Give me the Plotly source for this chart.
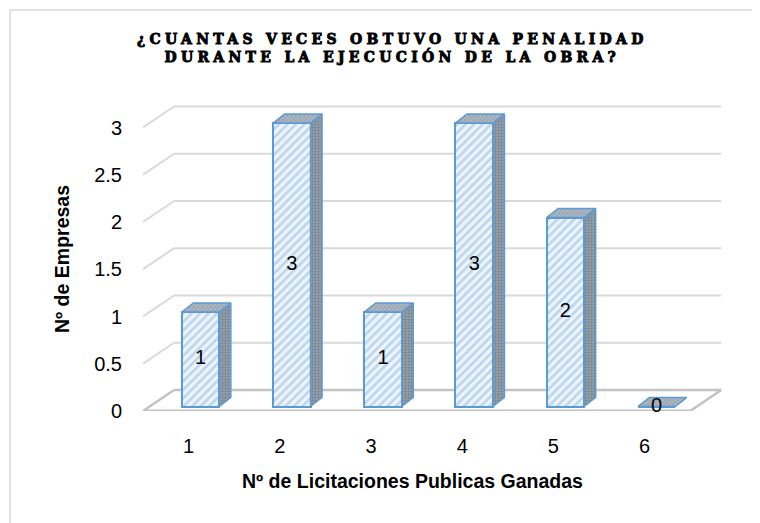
import plotly.graph_objects as go

# ---------------- data ----------------
categories = [1, 2, 3, 4, 5, 6]
values = [1, 3, 1, 3, 2, 0]
x_tick_labels = ["1", "2", "3", "4", "5", "6"]
y_ticks = [0, 0.5, 1, 1.5, 2, 2.5, 3]
y_tick_labels = ["0", "0.5", "1", "1.5", "2", "2.5", "3"]
title_lines = ["¿CUANTAS VECES OBTUVO UNA PENALIDAD", "DURANTE LA EJECUCIÓN DE LA OBRA?"]
x_title = "Nº de Licitaciones Publicas Ganadas"
y_title = "Nº de Empresas"

# ---------------- geometry ----------------
PAGE_PAD = 8                      # default body margin of the html page
W, H = 760 - PAGE_PAD, 523 - PAGE_PAD
LEFT_PX, FLOOR_PX = 143 - PAGE_PAD, 411 - PAGE_PAD
PX_X, PX_Y = 91.2, 94.5
PLOT_W, PLOT_H = 584, 312
x_range = [0.5, 0.5 + PLOT_W / PX_X]
y_range = [0, PLOT_H / PX_Y]

WALL_DX, WALL_DY = 31 / PX_X, 21 / PX_Y      # back wall depth offset
BAR_OFF, BAR_BASE = 12 / PX_X, 4.5 / PX_Y     # bar front face offset
BAR_W = 37.5 / PX_X
DEPTH_DX, DEPTH_DY = 11.5 / PX_X, 9 / PX_Y    # bar depth

first_cat = categories[0] - 0.5
last_cat = categories[-1] + 0.5

FONT = "Liberation Sans, Arial, sans-serif"


def px_x(p):  # reference pixel -> paper x
    return (p - PAGE_PAD - LEFT_PX) / PLOT_W


def px_y(p):  # reference pixel -> paper y
    return (FLOOR_PX - (p - PAGE_PAD)) / PLOT_H


fig = go.Figure()

# ---------------- wall / floor ----------------
shapes = []
for v in y_ticks:
    col = "#c3c3c3" if v == 0 else "#d9d9d9"
    lw = 2.5 if v == 0 else 2
    shapes.append(dict(type="line", xref="x", yref="y", layer="below",
                       x0=first_cat + WALL_DX, y0=v + WALL_DY,
                       x1=last_cat + WALL_DX, y1=v + WALL_DY,
                       line=dict(color=col, width=lw)))
    shapes.append(dict(type="line", xref="x", yref="y", layer="below",
                       x0=first_cat, y0=v, x1=first_cat + WALL_DX, y1=v + WALL_DY,
                       line=dict(color=col, width=lw)))
shapes.append(dict(type="line", xref="x", yref="y", layer="below",
                   x0=first_cat, y0=0, x1=last_cat, y1=0,
                   line=dict(color="#c3c3c3", width=3)))
shapes.append(dict(type="line", xref="x", yref="y", layer="below",
                   x0=last_cat, y0=0, x1=last_cat + WALL_DX, y1=WALL_DY,
                   line=dict(color="#c3c3c3", width=2.5)))

# chart border (top and left visible)
shapes.append(dict(type="rect", xref="paper", yref="paper",
                   x0=px_x(10), x1=px_x(820),
                   y0=px_y(600), y1=px_y(10),
                   line=dict(color="#d9d9d9", width=1.5)))

# ---------------- bars (front faces) ----------------
bar_x = [c + BAR_OFF for c in categories]
fig.add_trace(go.Bar(
    x=bar_x, y=values, base=BAR_BASE, width=BAR_W,
    marker=dict(color="#eaf3fc",
                line=dict(color="#5b9bd5", width=2),
                pattern=dict(shape="/", fgcolor="#8ab5e4", bgcolor="#eef5fc",
                             size=6, solidity=0.45)),
    hoverinfo="skip", showlegend=False))

# side and top faces
side_x, side_y, top_x, top_y = [], [], [], []
for c, v in zip(categories, values):
    xl = c + BAR_OFF - BAR_W / 2
    xr = c + BAR_OFF + BAR_W / 2
    yb = BAR_BASE
    yt = BAR_BASE + v
    if v > 0:
        side_x += [xr, xr + DEPTH_DX, xr + DEPTH_DX, xr, xr, None]
        side_y += [yb, yb + DEPTH_DY, yt + DEPTH_DY, yt, yb, None]
    top_x += [xl, xl + DEPTH_DX, xr + DEPTH_DX, xr, xl, None]
    top_y += [yt, yt + DEPTH_DY, yt + DEPTH_DY, yt, yt, None]

fig.add_trace(go.Scatter(
    x=side_x, y=side_y, mode="lines", fill="toself",
    fillcolor="#808d9a",
    fillpattern=dict(shape=".", fgcolor="#56636f", bgcolor="#9aa5b1", size=3, solidity=0.5),
    line=dict(color="#5b9bd5", width=1.5),
    hoverinfo="skip", showlegend=False))
fig.add_trace(go.Scatter(
    x=top_x, y=top_y, mode="lines", fill="toself",
    fillcolor="#95a1ae",
    fillpattern=dict(shape="x", fgcolor="#6f7c8a", bgcolor="#aeb8c3", size=3, solidity=0.4),
    line=dict(color="#5b9bd5", width=1.5),
    hoverinfo="skip", showlegend=False))

# data labels
fig.add_trace(go.Scatter(
    x=bar_x, y=[BAR_BASE + v / 2 for v in values],
    mode="text", text=[str(v) for v in values],
    textfont=dict(family=FONT, size=20, color="#000000"),
    textposition="middle center", cliponaxis=False,
    hoverinfo="skip", showlegend=False))

# ---------------- annotations ----------------
sp = "letter-spacing:4.3px;stroke:#000000;stroke-width:0.9px"
title_text = "<br>".join(f"<span style='{sp}'>{t}</span>" for t in title_lines)
annotations = [
    dict(text=title_text, xref="paper", yref="paper",
         x=px_x(392), y=px_y(48.5),
         xanchor="center", yanchor="middle", showarrow=False,
         font=dict(family="DejaVu Serif", size=14, color="#000000", weight="bold")),
    dict(text=f"<b>{x_title}</b>", xref="paper", yref="paper",
         x=px_x(412), y=px_y(481),
         xanchor="center", yanchor="middle", showarrow=False,
         font=dict(family=FONT, size=19.5, color="#000000")),
    dict(text=f"<b>{y_title}</b>", xref="paper", yref="paper",
         x=px_x(62), y=px_y(259),
         xanchor="center", yanchor="middle", showarrow=False, textangle=-90,
         font=dict(family=FONT, size=19.5, color="#000000")),
]

fig.update_layout(
    width=W, height=H,
    margin=dict(l=LEFT_PX, r=W - LEFT_PX - PLOT_W, t=FLOOR_PX - PLOT_H, b=H - FLOOR_PX, autoexpand=False),
    paper_bgcolor="#ffffff", plot_bgcolor="rgba(0,0,0,0)",
    font=dict(family=FONT, color="#000000"),
    shapes=shapes, annotations=annotations,
    showlegend=False, bargap=0,
    xaxis=dict(range=x_range, tickvals=categories, ticktext=x_tick_labels,
               showgrid=False, zeroline=False, showline=False,
               ticks="outside", ticklen=17, tickcolor="rgba(0,0,0,0)",
               tickfont=dict(family=FONT, size=20, color="#000000"), fixedrange=True),
    yaxis=dict(range=y_range, tickvals=y_ticks, ticktext=y_tick_labels,
               showgrid=False, zeroline=False, showline=False,
               ticks="outside", ticklen=16, tickcolor="rgba(0,0,0,0)",
               tickfont=dict(family=FONT, size=20, color="#000000"), fixedrange=True),
)

fig.write_html("out.html")
